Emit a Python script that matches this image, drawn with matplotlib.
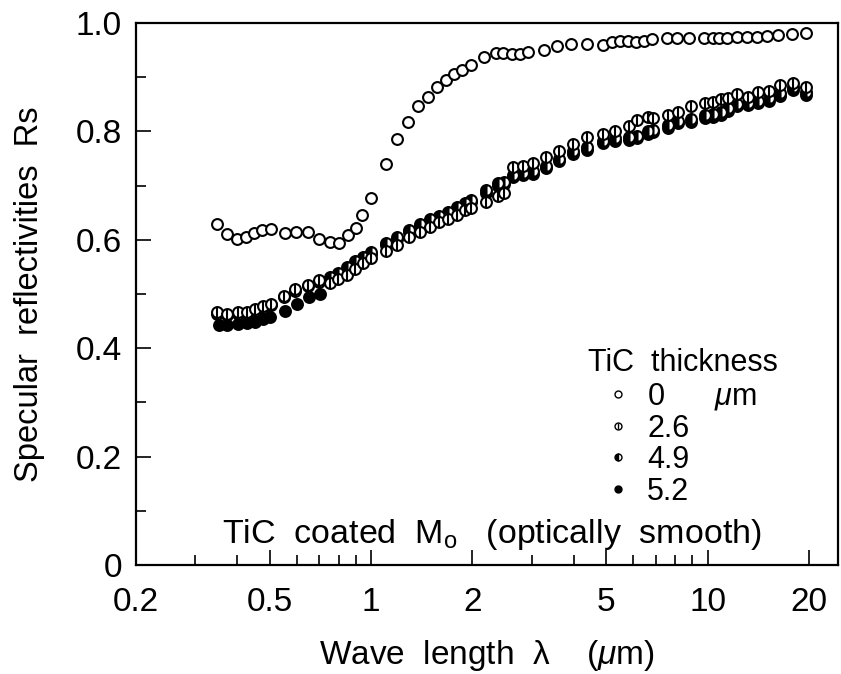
import matplotlib
matplotlib.use("Agg")
import matplotlib.pyplot as plt
from matplotlib.lines import Line2D
from matplotlib.legend_handler import HandlerTuple
from matplotlib.ticker import FixedLocator, MultipleLocator, LogLocator, NullFormatter
import numpy as np

plt.rcParams['font.family'] = ['Liberation Sans', 'DejaVu Sans']
plt.rcParams['mathtext.fontset'] = 'custom'
plt.rcParams['mathtext.rm'] = 'Liberation Sans'
plt.rcParams['mathtext.it'] = 'Liberation Sans:italic'

# TiC 0 um (bare Mo)
lam_0 = [0.348, 0.374, 0.399, 0.425, 0.449, 0.475, 0.503, 0.553, 0.597, 0.650,
         0.701, 0.754, 0.803, 0.853, 0.901, 0.942, 1.000, 1.103, 1.192, 1.288,
         1.382, 1.480, 1.574, 1.667, 1.765, 1.867, 1.978, 2.157, 2.348, 2.473,
         2.619, 2.773, 2.922, 3.267, 3.578, 3.922, 4.375, 4.882, 5.192, 5.495,
         5.816, 6.133, 6.447, 6.828, 7.563, 8.135, 8.83, 9.76, 10.40, 10.84,
         11.45, 12.21, 13.08, 14.01, 14.99, 16.17, 17.87, 19.58]
r_0 = [0.629, 0.610, 0.601, 0.605, 0.613, 0.618, 0.620, 0.612, 0.614, 0.614,
       0.602, 0.596, 0.595, 0.608, 0.621, 0.645, 0.678, 0.739, 0.786, 0.818,
       0.846, 0.864, 0.881, 0.895, 0.906, 0.913, 0.923, 0.937, 0.944, 0.944,
       0.943, 0.943, 0.946, 0.951, 0.958, 0.962, 0.962, 0.960, 0.965, 0.967,
       0.967, 0.965, 0.967, 0.970, 0.972, 0.972, 0.972, 0.972, 0.972, 0.972,
       0.972, 0.974, 0.974, 0.975, 0.976, 0.978, 0.980, 0.981]

lam_short = [0.348, 0.374, 0.402, 0.427, 0.452, 0.477, 0.503, 0.549, 0.594, 0.647, 0.701]
lam_short52 = [0.352, 0.374, 0.402, 0.427, 0.452, 0.477, 0.501, 0.555, 0.601, 0.654, 0.705]
lam_mid = [0.755, 0.799, 0.847, 0.897, 0.945, 1.000, 1.103, 1.192, 1.291, 1.398,
           1.497, 1.596, 1.697, 1.805, 1.902, 1.978, 2.197, 2.389, 2.485]
lam_long = [2.648, 2.824, 3.036, 3.311, 3.627, 3.975, 4.394, 4.882, 5.31, 5.836,
            6.152, 6.657, 6.902, 7.605, 8.172, 8.916, 9.83, 10.36, 10.95, 11.53,
            12.26, 13.18, 14.13, 15.21, 16.37, 17.95, 19.58]

# TiC 2.6 um
r_26 = ([0.466, 0.463, 0.466, 0.467, 0.472, 0.477, 0.482, 0.497, 0.509, 0.517, 0.525]
        + [0.520, 0.527, 0.535, 0.546, 0.557, 0.566, 0.580, 0.590, 0.605, 0.615,
           0.623, 0.632, 0.638, 0.646, 0.655, 0.658, 0.670, 0.681, 0.686]
        + [0.734, 0.737, 0.741, 0.752, 0.763, 0.777, 0.789, 0.796, 0.800, 0.810,
           0.821, 0.827, 0.824, 0.830, 0.836, 0.847, 0.853, 0.855, 0.860, 0.861,
           0.869, 0.863, 0.873, 0.875, 0.886, 0.890, 0.881])
# TiC 4.9 um
r_49 = ([0.463, 0.461, 0.463, 0.465, 0.469, 0.474, 0.479, 0.494, 0.506, 0.514, 0.522]
        + [0.531, 0.538, 0.549, 0.560, 0.569, 0.578, 0.594, 0.606, 0.618, 0.630,
           0.638, 0.644, 0.652, 0.661, 0.667, 0.673, 0.691, 0.704, 0.707]
        + [0.720, 0.723, 0.727, 0.737, 0.750, 0.764, 0.771, 0.783, 0.787, 0.790,
           0.792, 0.801, 0.803, 0.812, 0.820, 0.822, 0.830, 0.832, 0.836, 0.843,
           0.851, 0.853, 0.857, 0.861, 0.871, 0.881, 0.873])
# TiC 5.2 um
r_52 = ([0.442, 0.442, 0.444, 0.446, 0.449, 0.453, 0.458, 0.469, 0.481, 0.494, 0.500]
        + [0.527, 0.534, 0.545, 0.556, 0.565, 0.574, 0.590, 0.602, 0.614, 0.626,
           0.634, 0.640, 0.648, 0.657, 0.663, 0.669, 0.687, 0.700, 0.703]
        + [0.716, 0.719, 0.722, 0.732, 0.745, 0.759, 0.766, 0.778, 0.782, 0.785,
           0.787, 0.796, 0.798, 0.807, 0.815, 0.817, 0.825, 0.827, 0.831, 0.838,
           0.846, 0.848, 0.852, 0.856, 0.866, 0.876, 0.868])

lam_26 = lam_short + lam_mid + lam_long
lam_49 = lam_short + lam_mid + lam_long
lam_52 = lam_short52 + lam_mid + lam_long

xticks = [0.2, 0.5, 1, 2, 5, 10, 20]
xticklabels = ['0.2', '0.5', '1', '2', '5', '10', '20']
yticklabels = ['0', '0.2', '0.4', '0.6', '0.8', '1.0']

W, H = 841, 674
fig = plt.figure(figsize=(W / 100, H / 100), dpi=100)
ax = fig.add_axes([136 / W, 1 - 565 / H, (838 - 136) / W, (565 - 23) / H])

ms = 7.8
mew = 1.5
ax.plot(lam_52, r_52, ls='none', marker='o', ms=ms, mfc='k', mec='k', mew=mew, zorder=3)
ax.plot(lam_49, r_49, ls='none', marker='o', ms=ms, mec='k', mew=mew,
        fillstyle='left', mfc='k', mfcalt='white', zorder=4)
ax.plot(lam_26, r_26, ls='none', marker='o', ms=ms, mfc='white', mec='k', mew=mew, zorder=5)
ax.plot(lam_26, r_26, ls='none', marker='|', ms=ms, mec='k', mew=mew, zorder=6)
ax.plot(lam_0, r_0, ls='none', marker='o', ms=ms, mfc='white', mec='k', mew=mew, zorder=7)

ax.set_xscale('log')
ax.set_xlim(0.2, 24.4)
ax.set_ylim(0, 1.0)

ax.xaxis.set_major_locator(FixedLocator(xticks))
ax.set_xticklabels(xticklabels)
ax.xaxis.set_minor_locator(LogLocator(base=10, subs=np.arange(2, 10)))
ax.xaxis.set_minor_formatter(NullFormatter())
ax.yaxis.set_major_locator(MultipleLocator(0.2))
ax.yaxis.set_minor_locator(MultipleLocator(0.1))
ax.set_yticks([0, 0.2, 0.4, 0.6, 0.8, 1.0])
ax.set_yticklabels(yticklabels)

ax.tick_params(which='both', direction='in', labelsize=24, width=1.2)
ax.tick_params(which='major', length=11)
ax.tick_params(which='minor', length=7)
ax.tick_params(axis='x', pad=16)
ax.tick_params(axis='y', pad=10)
for s in ax.spines.values():
    s.set_linewidth(1.6)

ax.set_xlabel(r'Wave  length  λ    ($\mu$m)', fontsize=24, labelpad=14)
ax.set_ylabel('Specular  reflectivities  Rs', fontsize=23.5, labelpad=22)

fig.text(588 / W, 1 - 363 / H, 'TiC  thickness', fontsize=22, va='center', ha='left')
fig.text(222 / W, 1 - 535 / H, r'TiC  coated  M$_\mathrm{o}$   (optically  smooth)',
         fontsize=24.5, va='center', ha='left')

lms = 5
h0 = Line2D([], [], ls='none', marker='o', ms=lms, mfc='white', mec='k', mew=1)
h26a = Line2D([], [], ls='none', marker='o', ms=lms, mfc='white', mec='k', mew=1)
h26b = Line2D([], [], ls='none', marker='|', ms=lms, mec='k', mew=1)
h49 = Line2D([], [], ls='none', marker='o', ms=lms, mec='k', mew=1,
             fillstyle='left', mfc='k', mfcalt='white')
h52 = Line2D([], [], ls='none', marker='o', ms=lms, mfc='k', mec='k', mew=1)
ax.legend([h0, (h26a, h26b), h49, h52], [r'0      $\mu$m', '2.6', '4.9', '5.2'],
          handler_map={tuple: HandlerTuple(ndivide=1)},
          loc='upper left', bbox_to_anchor=(606 / W, 1 - 381 / H),
          bbox_transform=fig.transFigure, frameon=False, fontsize=22,
          handlelength=0.8, handletextpad=0.55, labelspacing=0.05,
          borderpad=0, borderaxespad=0)

fig.savefig('out.png', dpi=100)
